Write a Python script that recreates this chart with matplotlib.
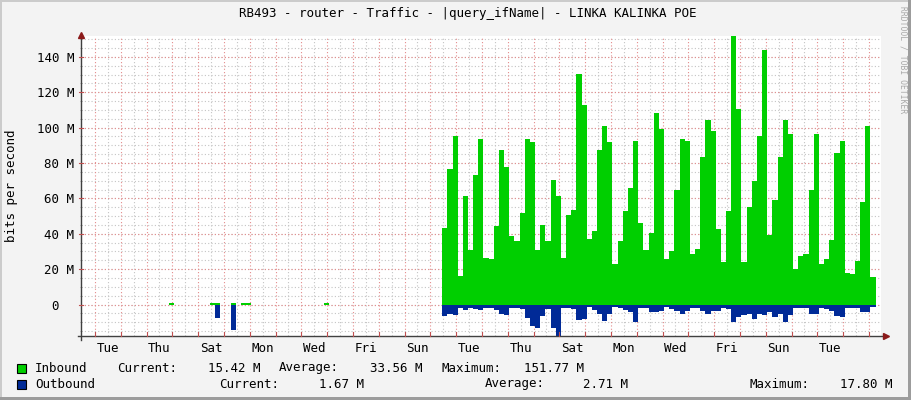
import numpy as np
import matplotlib
matplotlib.use("Agg")
import matplotlib.pyplot as plt
from matplotlib.patches import Rectangle

# ---------------- data ----------------
step = 0.2            # days per sample
start_day = 14.0      # first sample of the main block (days from left edge)
inbound = [43.1, 76.4, 95, 16.3, 61.2, 30.9, 73, 93.3, 26.4, 26,
           44.4, 87.6, 78, 39, 36, 51.7, 93.8, 91.6, 30.9, 45,
           36, 70.2, 61.2, 26.4, 50.6, 53.4, 130.5, 113, 37, 41.6,
           87.6, 101, 91.6, 23, 36, 52.8, 65.7, 92.7, 46, 30.9,
           40.4, 108.4, 99, 25.8, 30, 64.6, 93.3, 92.7, 28.7, 31.5,
           83.1, 104.5, 98, 42.7, 24.3, 52.8, 151.77, 110.7, 23.8, 55,
           69.7, 95.5, 143.8, 39.3, 59, 83.1, 104.5, 96.6, 20.2, 27.5,
           28.7, 64.6, 96.6, 23, 25.8, 36.5, 85.4, 92.7, 18, 17.4,
           24.7, 57.9, 101, 15.42]
outbound = [6.6, 5.6, 6.0, 1.9, 3.2, 2.2, 2.8, 3.2, 1.9, 2.2,
            3.2, 5.6, 6.0, 1.9, 1.9, 2.8, 7.9, 12.2, 13.1, 6.6,
            2.8, 13.1, 17.8, 1.9, 1.9, 2.8, 8.8, 8.4, 1.3, 3.2,
            5.6, 9.4, 5.6, 1.3, 1.9, 3.2, 4.1, 9.9, 1.9, 1.9,
            4.2, 4.3, 3.4, 1.3, 2.8, 3.4, 5.1, 3.7, 1.7, 1.7,
            3.4, 5.1, 3.4, 3.7, 2.0, 2.8, 9.9, 6.9, 6.2, 5.1,
            8.1, 5.1, 6.2, 4.3, 6.9, 5.6, 9.9, 5.9, 1.7, 1.7,
            2.0, 5.1, 5.6, 1.7, 2.8, 3.4, 6.6, 6.9, 1.7, 1.7,
            2.0, 4.3, 4.3, 1.67]
early_in_t = [3.4, 5.0, 5.2, 5.8, 6.2, 6.4, 9.4]
early_in = [0.8, 1.0, 0.6, 1.0, 0.6, 0.6, 0.6]
early_out_t = [5.2, 5.8]
early_out = [7.9, 14.6]

day_labels = ["Tue", "Thu", "Sat", "Mon", "Wed", "Fri", "Sun",
              "Tue", "Thu", "Sat", "Mon", "Wed", "Fri", "Sun", "Tue"]
first_label_day = 1.04
midnight0 = 0.54
y_ticks = [0, 20, 20*2, 60, 80, 100, 120, 140]
y_ticklabels = ["0  ", "20 M", "40 M", "60 M", "80 M", "100 M", "120 M", "140 M"]

title = "RB493 - router - Traffic - |query_ifName| - LINKA KALINKA POE"
legend_rows = [
    ("Inbound", "#00CF00",
     [("Current:", 117, "left"), ("15.42 M", 260, "right"),
      ("Average:", 279, "left"), ("33.56 M", 422, "right"),
      ("Maximum:", 441, "left"), ("151.77 M", 584, "right")]),
    ("Outbound", "#002A97",
     [("Current:", 219, "left"), ("1.67 M", 364, "right"),
      ("Average:", 485, "left"), ("2.71 M", 628, "right"),
      ("Maximum:", 749, "left"), ("17.80 M", 893, "right")]),
]

# ---------------- figure ----------------
W, H = 911, 400
MONO = "DejaVu Sans Mono"
FS = 9
fig = plt.figure(figsize=(W / 100, H / 100), dpi=100, facecolor="#f3f3f3")

def fx(px):
    return px / W

def fy(py):
    return 1 - py / H

# border shading
fig.patches.append(Rectangle((0, 0), 1, 1, transform=fig.transFigure,
                             facecolor="none", edgecolor="none"))
for (x0, y0, w, h, c) in [(0, 0, 2, H, "#cbcbcb"), (0, 0, W, 2, "#cbcbcb"),
                          (W - 3, 0, 3, H, "#9c9c9c"), (0, H - 3, W, 3, "#9c9c9c")]:
    fig.patches.append(Rectangle((fx(x0), fy(y0 + h)), w / W, h / H,
                                 transform=fig.transFigure, facecolor=c,
                                 edgecolor="none", zorder=0))

L, R, T, B = 81, 881, 36, 336
ax = fig.add_axes([fx(L), fy(B), (R - L) / W, (B - T) / H])
ax.set_facecolor("white")
xmax = (R - L) / 25.8
ymin, ymax = -17.8, 151.77
ax.set_xlim(0, xmax)
ax.set_ylim(ymin, ymax)

# grid
minor_y = np.arange(-15, 151, 5)
for v in minor_y:
    ax.axhline(v, color="#c4c4c4", lw=0.8, ls=(0, (1, 2)), zorder=1)
for v in y_ticks:
    ax.axhline(v, color="#e48c8c", lw=0.8, ls=(0, (1, 2)), zorder=1.1)
minor_x = np.arange(midnight0 + 0.5, xmax, 1.0)
major_x = np.arange(midnight0, xmax, 1.0)
for v in minor_x:
    ax.axvline(v, color="#c4c4c4", lw=0.8, ls=(0, (1, 2)), zorder=1)
for v in major_x:
    ax.axvline(v, color="#e48c8c", lw=0.8, ls=(0, (1, 2)), zorder=1.1)

# data
n = len(inbound)
xs = start_day + step * np.arange(n + 1)
yin = np.append(inbound, inbound[-1])
yout = -np.append(outbound, outbound[-1])
ax.fill_between(xs, 0, yin, step="post", color="#00CF00", lw=0, zorder=2)
ax.fill_between(xs, 0, yout, step="post", color="#002A97", lw=0, zorder=2)
ax.bar(early_in_t, early_in, width=step, align="edge", color="#00CF00", lw=0, zorder=2)
ax.bar(early_out_t, [-v for v in early_out], width=step, align="edge",
       color="#002A97", lw=0, zorder=2)

# axes styling
for s in ax.spines.values():
    s.set_visible(False)
ax.plot([0, 0], [-0.012, 1.0], transform=ax.transAxes, color="#404040",
        lw=1, clip_on=False, zorder=5)
ax.plot([-0.004, 1.005], [0, 0], transform=ax.transAxes, color="#404040",
        lw=1, clip_on=False, zorder=5)
ax.plot([0], [1.005], marker="^", ms=5, color="#8b1a1a", transform=ax.transAxes,
        clip_on=False, zorder=6)
ax.plot([1.006], [0], marker=">", ms=5, color="#8b1a1a", transform=ax.transAxes,
        clip_on=False, zorder=6)

ax.set_yticks(y_ticks)
ax.set_yticklabels(y_ticklabels, family=MONO, fontsize=FS)
ax.set_yticks(minor_y, minor=True)
ax.set_xticks([first_label_day + 2 * i for i in range(len(day_labels))])
ax.set_xticklabels(day_labels, family=MONO, fontsize=FS)
ax.tick_params(axis="both", which="major", length=0, pad=5)
ax.tick_params(axis="y", which="minor", length=2, color="#a0a0a0", direction="inout")
ax.tick_params(axis="x", which="major", pad=4)
for v in major_x:
    ax.plot([v, v], [0, 0.012], transform=ax.get_xaxis_transform(),
            color="#c05050", lw=0.8, clip_on=False, zorder=5)
for v in y_ticks:
    ax.plot([-0.003, 0.003], [v, v], transform=ax.get_yaxis_transform(),
            color="#c05050", lw=0.8, clip_on=False, zorder=5)

# texts
fig.text(fx(468), fy(13), title, family=MONO, fontsize=FS, ha="center", va="center")
fig.text(fx(12), fy(186), "bits per second", family=MONO, fontsize=FS,
         rotation=90, ha="center", va="center")
fig.text(fx(903), fy(60), "RRDTOOL / TOBI OETIKER", family=MONO, fontsize=5.8,
         rotation=270, ha="center", va="center", color="#a8a8a8")

for i, (name, color, pieces) in enumerate(legend_rows):
    yc = 368 + 16 * i
    fig.patches.append(Rectangle((fx(17), fy(yc + 4.5)), 9 / W, 9 / H,
                                 transform=fig.transFigure, facecolor=color,
                                 edgecolor="black", lw=0.8, zorder=3))
    fig.text(fx(35), fy(yc), name, family=MONO, fontsize=FS, ha="left", va="center")
    for txt, xpos, ha in pieces:
        fig.text(fx(xpos), fy(yc), txt, family=MONO, fontsize=FS, ha=ha, va="center")

fig.savefig("out.png", dpi=100, facecolor=fig.get_facecolor())
